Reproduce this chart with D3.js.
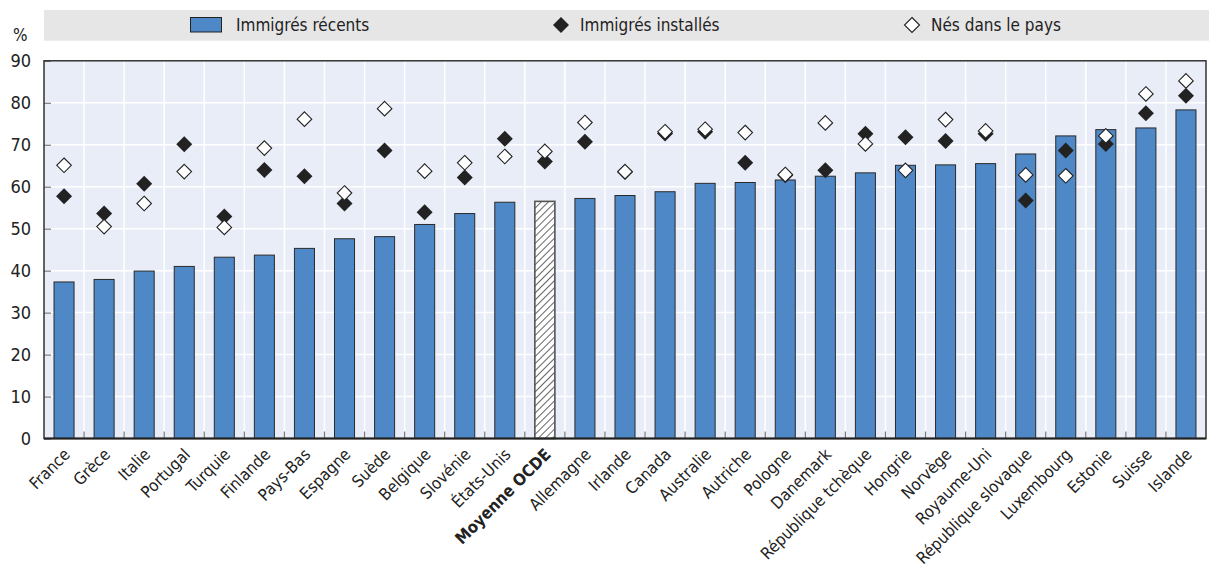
<!DOCTYPE html>
<html><head><meta charset="utf-8">
<script src="https://cdn.jsdelivr.net/npm/d3@7"></script>
<style>
body{margin:0;background:#fff}
svg text{font-family:"DejaVu Sans Condensed","Liberation Sans Narrow",sans-serif;fill:#222}
</style>
</head><body>
<svg id="chart" width="1209" height="571"></svg>
<script>
const categories=["France","Grèce","Italie","Portugal","Turquie","Finlande","Pays-Bas","Espagne","Suède","Belgique","Slovénie","États-Unis","Moyenne OCDE","Allemagne","Irlande","Canada","Australie","Autriche","Pologne","Danemark","République tchèque","Hongrie","Norvège","Royaume-Uni","République slovaque","Luxembourg","Estonie","Suisse","Islande"];
const recents=[37.3,37.9,39.9,41.0,43.2,43.7,45.3,47.6,48.1,51.0,53.6,56.3,56.5,57.2,57.9,58.8,60.8,61.0,61.6,62.5,63.3,65.1,65.2,65.5,67.8,72.1,73.6,74.0,78.3];
const installes=[57.7,53.6,60.7,70.1,52.9,64.0,62.5,56.0,68.6,53.9,62.2,71.4,66.0,70.7,63.5,72.7,73.1,65.7,62.7,63.9,72.6,71.8,70.9,72.6,56.7,68.6,70.2,77.5,81.7];
const nes=[65.1,50.5,56.0,63.6,50.3,69.2,76.1,58.5,78.6,63.7,65.7,67.2,68.4,75.3,63.6,73.1,73.7,72.9,62.9,75.2,70.2,63.9,76.0,73.3,62.8,62.6,72.1,82.1,85.2];
const yTicks=[0,10,20,30,40,50,60,70,80,90];
const highlight="Moyenne OCDE";
const legendLabels=["Immigrés récents","Immigrés installés","Nés dans le pays"];
const unitLabel="%";

const FONT='"DejaVu Sans Condensed","Liberation Sans Narrow",sans-serif';
const svg=d3.select("#chart");
const L=44,R=1206,T=60.8,B=438.5;
const x=d3.scaleBand().domain(categories).range([L,R]).paddingInner(0.5).paddingOuter(0.25);
const y=d3.scaleLinear().domain([0,90]).range([B,T]);
const step=x.step(), bw=x.bandwidth();
const blue="#4f88c7";

const defs=svg.append("defs");
const pat=defs.append("pattern").attr("id","hatch").attr("patternUnits","userSpaceOnUse")
  .attr("width",5).attr("height",5).attr("patternTransform","rotate(45)");
pat.append("rect").attr("width",5).attr("height",5).attr("fill","#fff");
pat.append("line").attr("x1",0).attr("y1",0).attr("x2",0).attr("y2",5).attr("stroke","#222").attr("stroke-width",1.4);

// legend band
svg.append("rect").attr("x",44).attr("y",10).attr("width",1165).attr("height",30.7).attr("fill","#e6e6e6");
const lg=svg.append("g");
lg.append("rect").attr("x",190.5).attr("y",17.5).attr("width",31).attr("height",14.5).attr("fill",blue).attr("stroke","#222").attr("stroke-width",1);
const dia=d=>`M0,${-d}L${d},0L0,${d}L${-d},0Z`;
lg.append("path").attr("d",dia(8)).attr("transform","translate(561,25)").attr("fill","#222");
lg.append("path").attr("d",dia(7.5)).attr("transform","translate(912,25)").attr("fill","#fff").attr("stroke","#222").attr("stroke-width",1.1);
lg.selectAll("text.lt").data(legendLabels).join("text").attr("class","lt")
  .attr("x",(d,i)=>[236,580,931][i]).attr("y",31).text(d=>d).style("font-size","17px");

svg.append("text").attr("x",13).attr("y",41).text(unitLabel).style("font-size","17px");

// plot background
svg.append("rect").attr("x",L).attr("y",T).attr("width",R-L).attr("height",B-T).attr("fill","#e9edf7");
svg.append("g").selectAll("line").data(yTicks).join("line")
  .attr("x1",L).attr("x2",R).attr("y1",d=>y(d)).attr("y2",d=>y(d)).attr("stroke","#fff").attr("stroke-width",1.5);
const bounds=categories.map(c=>x(c)+bw/2-step/2).slice(1);
svg.append("g").selectAll("line").data(bounds).join("line")
  .attr("x1",d=>d).attr("x2",d=>d).attr("y1",T).attr("y2",B).attr("stroke","#fff").attr("stroke-width",1.5);
svg.append("g").selectAll("line").data(bounds).join("line")
  .attr("x1",d=>d).attr("x2",d=>d).attr("y1",B).attr("y2",B-7).attr("stroke","#777").attr("stroke-width",1.2);

// y axis
const yAxis=d3.axisLeft(y).tickValues(yTicks).tickSize(-7).tickPadding(13).tickFormat(d3.format("d"));
const ya=svg.append("g").attr("transform",`translate(${L},0)`).call(yAxis);
ya.select(".domain").remove();
ya.selectAll(".tick line").attr("stroke","#777").attr("stroke-width",1.2);
ya.selectAll(".tick text").style("font-size","18px").attr("fill","#222").style("font-family",FONT);

// bars
svg.append("g").selectAll("rect").data(categories).join("rect")
  .attr("x",d=>x(d)).attr("width",bw)
  .attr("y",(d,i)=>y(recents[i])).attr("height",(d,i)=>B-y(recents[i]))
  .attr("fill",d=>d===highlight?"url(#hatch)":blue)
  .attr("stroke",d=>d===highlight?"#555":"#2a2a2a").attr("stroke-width",d=>d===highlight?1.6:1);

// diamonds
svg.append("g").selectAll("path").data(categories).join("path")
  .attr("d",dia(8)).attr("transform",(d,i)=>`translate(${x(d)+bw/2},${y(installes[i])})`).attr("fill","#222");
svg.append("g").selectAll("path").data(categories).join("path")
  .attr("d",dia(7.3)).attr("transform",(d,i)=>`translate(${x(d)+bw/2},${y(nes[i])})`).attr("fill","#fff").attr("stroke","#222").attr("stroke-width",1.1);

// frame
svg.append("rect").attr("x",L).attr("y",T).attr("width",R-L).attr("height",B-T).attr("fill","none").attr("stroke","#333").attr("stroke-width",1.5);
svg.append("line").attr("x1",L).attr("x2",R).attr("y1",B).attr("y2",B).attr("stroke","#222").attr("stroke-width",2.2);

// x labels
const xAxis=d3.axisBottom(x).tickSize(0);
const xa=svg.append("g").attr("transform",`translate(0,${B})`).call(xAxis);
xa.select(".domain").remove();
xa.selectAll(".tick text")
  .attr("x",0).attr("y",0).attr("dy",0)
  .attr("transform","translate(7,17) rotate(-45)")
  .attr("text-anchor","end")
  .style("font-size","16.5px").attr("fill","#222")
  .style("font-family",FONT)
  .style("font-weight",d=>d===highlight?"bold":"normal");
</script>
</body></html>
